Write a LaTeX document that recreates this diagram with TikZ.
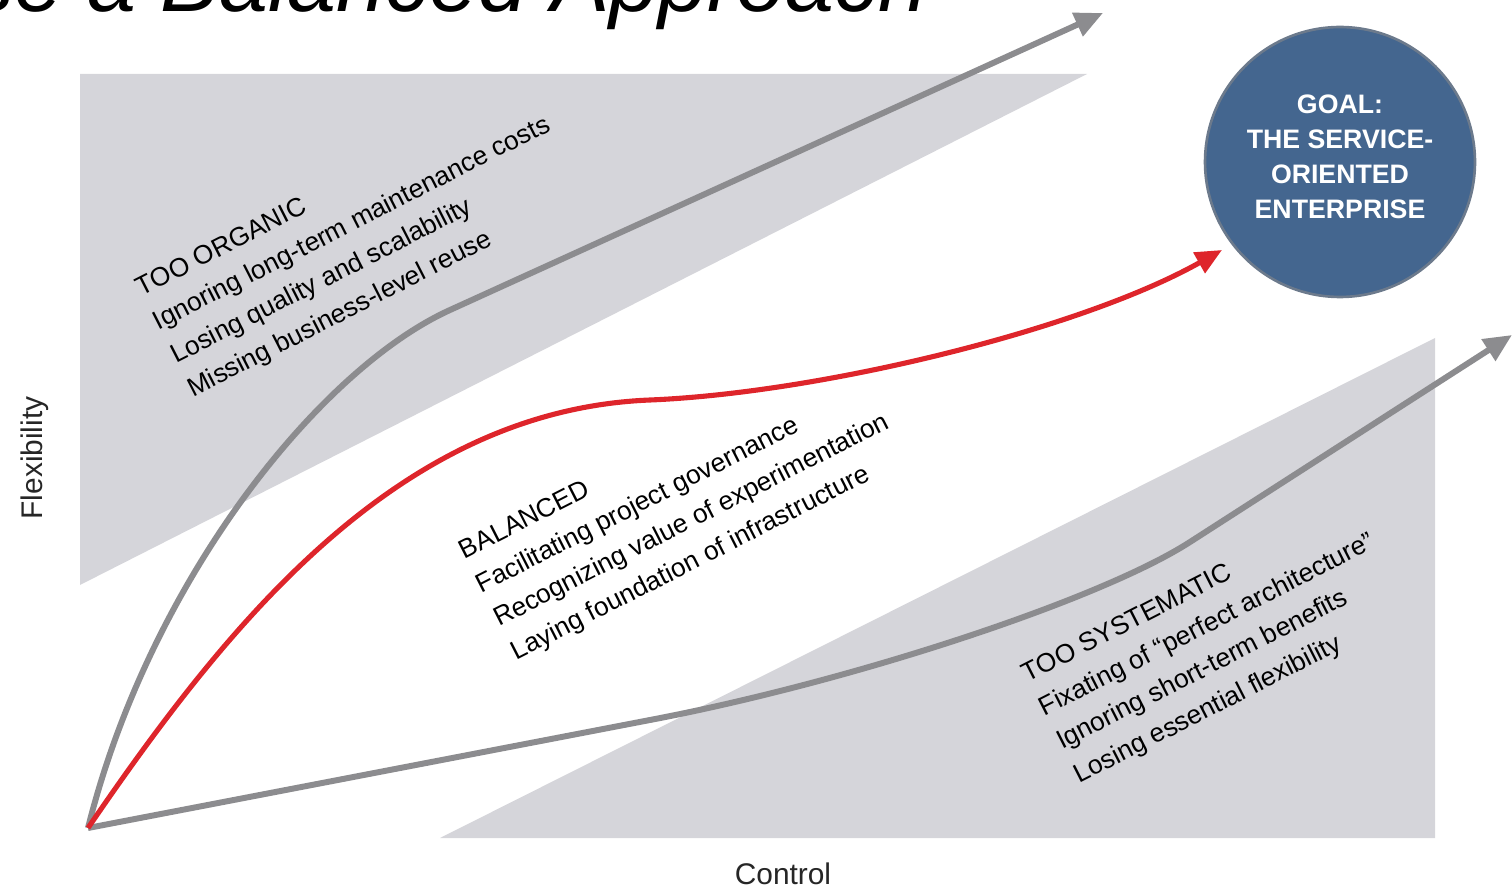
\documentclass[tikz,border=0pt]{standalone}
\usepackage{fontspec}
\setmainfont{Liberation Sans}
\usetikzlibrary{arrows.meta}

\definecolor{zonegray}{HTML}{D5D5DA}
\definecolor{pathgray}{HTML}{8C8C8F}
\definecolor{pathred}{HTML}{DE252B}
\definecolor{goalblue}{HTML}{44668F}
\definecolor{goalrim}{HTML}{6C7A8C}

\tikzset{
  zone/.style={fill=zonegray},
  trend/.style={line width=3.4pt,pathgray,-{Triangle[length=16pt,width=14pt]}},
  goalpath/.style={line width=2.9pt,pathred,-{Triangle[length=15pt,width=13pt]}},
  axislabel/.style={inner sep=0pt,text=black!85,font=\fontsize{17}{17}\selectfont},
}

\begin{document}
\begin{tikzpicture}[x=0.02cm,y=-0.02cm]

        \useasboundingbox (0,0) rectangle (1512,888);
        \clip (0,0) rectangle (1512,888);

        % title, cut off at the top
        \node[anchor=base east,inner sep=0pt,font=\itshape\fontsize{50}{50}\selectfont]
          (title) at (928,12) {Choose a Balanced Approach};

        % zones
        \fill[zone] (80,74) -- (1087,74) -- (80,585) -- cycle;
        \fill[zone] (440,838) -- (1435,338) -- (1435,838) -- cycle;

        % axes
        \node[axislabel,rotate=90] (flex) at (35,458) {Flexibility};
        \node[axislabel] (control) at (783,874) {Control};

        % goal
        \node[circle,fill=goalblue,draw=goalrim,line width=1.5pt,minimum size=5.4cm,inner sep=0pt]
          (goal) at (1340,162) {};
        \node[text=white,align=center,inner sep=0pt,font=\bfseries\fontsize{15.2}{20}\selectfont]
          (goaltext) at ([yshift=3pt]goal.center) {GOAL:\\THE SERVICE-\\ORIENTED\\ENTERPRISE};

        \coordinate (origin) at (88,828);
        \coordinate (organictip) at (1103,13);
        \coordinate (goaltip) at (1222,250);
        \coordinate (systematictip) at (1512,335);

        % paths
        \draw[trend] (origin) .. controls (150,580) and (320,369) .. (450,310) -- (organictip);
        \draw[trend] (origin) -- (650,720) .. controls (850,682) and (1100,600) .. (1190,542) -- (systematictip);
        \draw[goalpath] (origin) .. controls (230,620) and (400,410) .. (650,400)
          .. controls (820,393) and (1080,330) .. (goaltip);

        \begin{scope}[every node/.style={rotate=27,anchor=north west,align=left,inner sep=0pt,
                      font=\fontsize{15}{21.5}\selectfont}]
          \node (organic) at (133,280) {TOO ORGANIC\\Ignoring long-term maintenance costs\\
            Losing quality and scalability\\Missing business-level reuse};
          \node (balanced) at (456,543) {BALANCED\\Facilitating project governance\\
            Recognizing value of experimentation\\Laying foundation of infrastructure};
          \node (systematic) at (1019,666) {TOO SYSTEMATIC\\Fixating of ``perfect architecture''\\
            Ignoring short-term benefits\\Losing essential flexibility};
        \end{scope}

      \end{tikzpicture}
\end{document}
